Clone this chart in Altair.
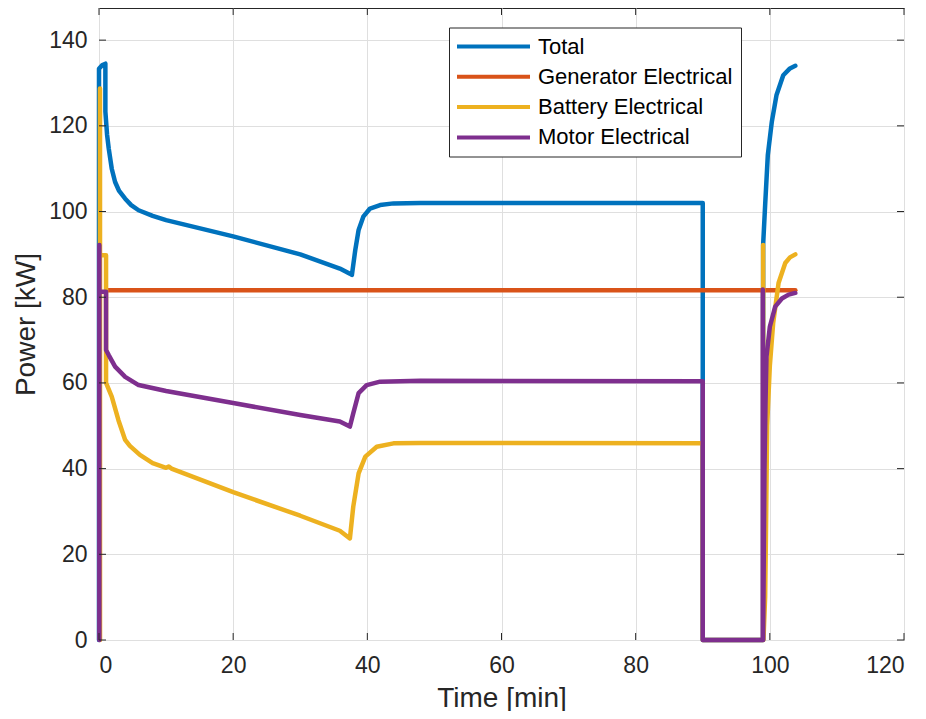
import altair as alt
import pandas as pd

# ---- data ----
series_names = ["Total", "Generator Electrical", "Battery Electrical", "Motor Electrical"]
series_colors = ["#0072BD", "#D95319", "#EDB120", "#7E2F8E"]

total_t = [0, 0, 0.5, 0.95, 0.95, 1.2, 1.45, 1.9, 2.4, 3.0, 3.9, 4.8, 5.9, 8, 10, 20, 30, 35.9, 37.4, 37.7,
           38.2, 38.7, 39.4, 40.4, 41.9, 43.9, 47.9, 60, 80, 90.0, 90.0, 99.0, 99.0, 99.3, 99.7, 100.3,
           101.0, 102.0, 103.0, 103.8]
total_p = [0, 133.3, 134.2, 134.5, 123.3, 118.0, 114.7, 110.0, 106.9, 104.8, 103.0, 101.5, 100.3, 99.0, 98.0,
           94.2, 90.0, 86.7, 85.5, 85.2, 91.0, 95.7, 98.8, 100.7, 101.5, 101.9, 102.0, 102.0, 102.0, 102.0,
           0, 0, 92.2, 101.5, 113.2, 121.0, 127.2, 131.8, 133.4, 134.0]

gen_t = [1.05, 20, 60, 103.8]
gen_p = [81.6, 81.6, 81.6, 81.6]

bat_t = [0.15, 0.15, 0.15, 1.05, 1.05, 1.9, 2.9, 3.9, 4.6, 6.1, 8, 10, 10.4, 10.8, 20, 30, 35.9, 37.4,
         37.9, 38.7, 39.7, 41.4, 43.9, 47.9, 90.0, 90.0, 99.0, 99.0, 99.05, 99.3, 99.4, 99.6, 100.0,
         100.5, 101.3, 102.3, 103.0, 103.8]
bat_p = [0, 128.7, 89.8, 89.8, 60.0, 56.8, 51.3, 46.7, 45.3, 43.2, 41.3, 40.2, 40.5, 40.0, 34.5, 29.0,
         25.5, 23.7, 31.1, 38.9, 42.8, 45.1, 45.9, 46.0, 45.9, 0, 0, 92.2, 0, 10.0, 22.0, 50.0, 64.0,
         74.0, 83.3, 88.0, 89.3, 90.0]

mot_t = [0.05, 0.05, 0.05, 1.05, 1.05, 1.45, 2.4, 3.9, 5.9, 10, 20, 30, 35.9, 37.4, 37.9, 38.7, 39.9,
         41.9, 47.9, 90.0, 90.0, 98.95, 98.95, 99.0, 99.2, 99.35, 99.5, 100.0, 100.8, 101.8, 102.8, 103.8]
mot_p = [0, 92.2, 81.3, 81.3, 67.7, 66.5, 63.8, 61.4, 59.5, 58.1, 55.3, 52.5, 51.0, 49.8, 52.9, 57.6,
         59.5, 60.3, 60.5, 60.4, 0, 0, 81.8, 0, 40.0, 55.0, 66.1, 73.1, 77.8, 79.7, 80.6, 81.0]

x_ticks = [0, 20, 40, 60, 80, 100, 120]
y_ticks = [0, 20, 40, 60, 80, 100, 120, 140]
x_domain = [0, 120]
y_domain = [0, 147.5]

W, H = 805, 632
TXT = "#262626"
FONT = "Liberation Sans"


def frame(name, ts, ps):
    return pd.DataFrame({"t": ts, "P": ps, "series": name, "idx": range(len(ts))})


color = alt.Color(
    "series:N",
    scale=alt.Scale(domain=series_names, range=series_colors),
    legend=alt.Legend(
        title=None, orient="none", legendX=350, legendY=19.5,
        strokeColor=TXT, fillColor="white", padding=8, cornerRadius=0,
        labelFont=FONT, labelFontSize=22, labelColor="#000000", labelOffset=59, labelLimit=400,
        symbolType="M-2.2,0H12.4", symbolSize=100, symbolStrokeWidth=4, rowPadding=8.3,
    ),
)

xenc = alt.X("t:Q", scale=alt.Scale(domain=x_domain, nice=False, zero=False),
             axis=alt.Axis(values=x_ticks, title="Time [min]", grid=True, ticks=False, domain=False,
                           labelPadding=14, titlePadding=7, format="d"))
yenc = alt.Y("P:Q", scale=alt.Scale(domain=y_domain, nice=False),
             axis=alt.Axis(values=y_ticks, title="Power [kW]", grid=True, ticks=False, domain=False,
                           labelPadding=12, titlePadding=8, format="d"))

layers = []
for name, ts, ps in [(series_names[0], total_t, total_p), (series_names[1], gen_t, gen_p),
                     (series_names[2], bat_t, bat_p), (series_names[3], mot_t, mot_p)]:
    layers.append(
        alt.Chart(frame(name, ts, ps)).mark_line(strokeWidth=4.5, strokeCap="round", strokeJoin="round")
        .encode(x=xenc, y=yenc, color=color, order=alt.Order("idx:Q"))
    )

xt_df = pd.DataFrame({"t": x_ticks})
yt_df = pd.DataFrame({"P": y_ticks})
tick_style = dict(color=TXT, strokeWidth=1)
tick_layers = [
    alt.Chart(xt_df).mark_rule(**tick_style).encode(x="t:Q", y=alt.value(H), y2=alt.value(H - 7)),
    alt.Chart(xt_df).mark_rule(**tick_style).encode(x="t:Q", y=alt.value(0), y2=alt.value(7)),
    alt.Chart(yt_df).mark_rule(**tick_style).encode(y="P:Q", x=alt.value(0), x2=alt.value(7)),
    alt.Chart(yt_df).mark_rule(**tick_style).encode(y="P:Q", x=alt.value(W - 7), x2=alt.value(W)),
]

chart = (
    alt.layer(*layers, *tick_layers)
    .properties(width=W, height=H, autosize=alt.AutoSizeParams(type="none"),
                padding={"left": 91, "top": 0, "right": 14, "bottom": 71}, background="white")
    .configure_view(stroke=TXT, strokeWidth=1)
    .configure_axis(labelFont=FONT, titleFont=FONT, labelFontSize=23, titleFontSize=28,
                    labelColor=TXT, titleColor=TXT, titleFontWeight="normal",
                    gridColor="#dfdfdf", gridWidth=1)
)

chart.save("out.html", embed_options={"renderer": "svg", "actions": False})
